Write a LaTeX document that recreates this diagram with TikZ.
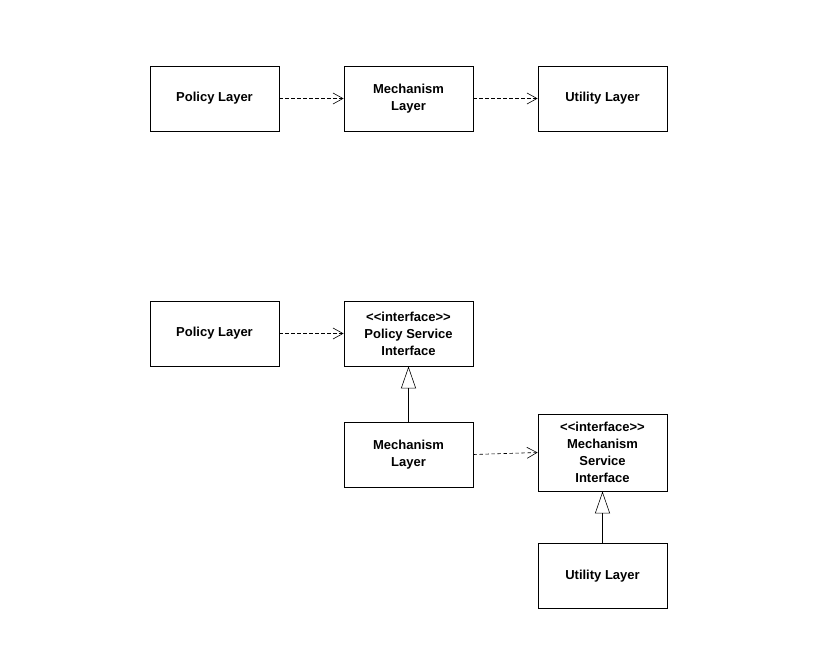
\documentclass[tikz,border=0pt]{standalone}
\usepackage{fontspec}
\setmainfont{Liberation Sans}
\usetikzlibrary{arrows.meta}

\newcommand{\stereo}[1]{<\kern0pt<#1>\kern0pt>}

\begin{document}
\begin{tikzpicture}
            [x=1pt,y=-1pt,
             box/.style={draw,thick,minimum width=129pt,minimum height=65pt,
               align=center,font=\fontsize{13}{17}\selectfont\bfseries,inner sep=2pt},
             dep/.style={semithick,dash pattern=on 3.5pt off 2.5pt,-{Straight Barb[length=10pt,width=11pt]}},
             real/.style={semithick,-{Triangle[open,length=22pt,width=15pt]}}]
            \useasboundingbox (0,0) rectangle (828,659);
            % first row
            \node[box] (P1) at (214.5,98.5) {Policy Layer};
            \node[box] (M1) at (408.5,98.5) {Mechanism\\Layer};
            \node[box] (U1) at (602.5,98.5) {Utility Layer};
            
            % second picture
            \node[box] (P2) at (214.5,333.5) {Policy Layer};
            \node[box] (PSI) at (408.5,333.5) {\stereo{interface}\\Policy Service\\Interface};
            \node[box] (M2) at (408.5,454.5) {Mechanism\\Layer};
            \node[box,minimum height=77pt] (MSI) at (602.5,452.5) {\stereo{interface}\\Mechanism\\Service\\Interface};
            \node[box] (U2) at (602.5,576) {Utility Layer};
            
            \draw[dep] (P1) -- (M1);
            \draw[dep] (M1) -- (U1);
            \draw[dep] (P2) -- (PSI);
            \draw[dep] (M2.east) -- (MSI.west);
            \draw[real] (M2) -- (PSI);
            \draw[real] (U2) -- (MSI);
          \end{tikzpicture}
\end{document}
